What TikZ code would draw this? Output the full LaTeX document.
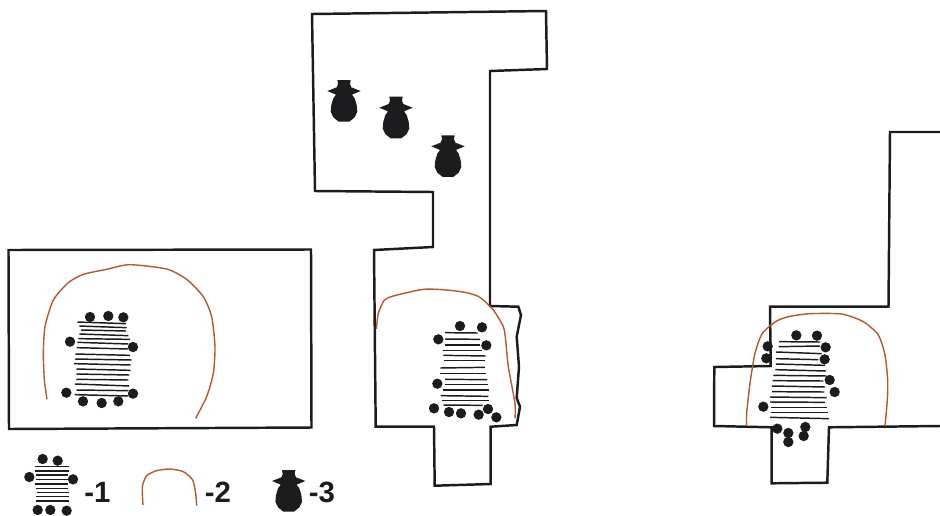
\documentclass[tikz,border=0pt]{standalone}
\usepackage{fontspec}
\setmainfont{Liberation Sans}
\definecolor{ink}{HTML}{1C1C1E}
\definecolor{rust}{HTML}{B5572F}
\newcommand{\dotsAt}[1]{\foreach \p in {#1}{\fill[ink] \p circle (15.5);}}
\newcommand{\treads}[1]{\foreach \ta/\tb/\tc/\td in {#1}{\draw[tread] (\ta,\tb) -- (\tc,\td);}}
\newcommand{\jarAt}[1]{\fill[ink,shift={#1},scale=1/3] (-20,0)--(20,0)--(18,12)--(22,22)--(50,33)--(24,44)--(32,55)--(38,75)--(40,95)--(32,112)--(16,125)--(-16,125)--(-32,112)--(-40,95)--(-38,75)--(-32,55)--(-24,44)--(-50,33)--(-22,22)--(-18,12)--cycle;}
\tikzset{
  x=0.75pt,y=-0.75pt,
  wall/.style={draw=ink,line width=1.85pt,line join=miter},
  tread/.style={draw=ink,line width=1.1pt},
  arc/.style={draw=rust,line width=1.05pt,line join=round,smooth,tension=0.4},
  zoomed/.style={shift={#1},scale=1/3},
  lab/.style={font=\bfseries\fontsize{22}{22}\selectfont,inner sep=0pt,anchor=west,text=ink}
}
\begin{document}
\begin{tikzpicture}
\useasboundingbox (0,0) rectangle (940,515);
% left chamber
\draw[wall] (8.5,250)--(311,249.5)--(311.5,427.5)--(9,429)--cycle;
% middle chamber
\draw[wall] (312,14)--(546,11)--(547,69)--(490,71)--(490,306)--(518.3,306.7)--(521,315)--(516.7,336.7)--(519,366.7)--(516.7,398)--(520,406.7)--(516.7,425)--(490.7,426.7)--(490.7,484)--(434.7,485.7)--(434,426.7)--(375.7,426.7)--(374,250)--(433,247)--(433,192)--(315,191)--cycle;
% right chamber
\draw[wall] (940,132)--(890,132)--(888.5,306.7)--(770,306.7)--(770.7,366)--(714.3,367)--(714,426)--(771.7,427.3)--(771.7,483.3)--(827.3,482.7)--(829,427.3)--(940,426);
% left contents
\begin{scope}[zoomed={(0,240)}]
\draw[arc] plot coordinates {(141,478)(133,420)(130,340)(135,260)(160,180)(205,128)(250,103)(320,88)(388,74)(500,87)(560,118)(610,170)(635,230)(645,320)(640,400)(620,470)(587,535)};
\treads{232/246/378/251,238/258/380/263,243/270/378/273,238/282/385/287,235/296/390/298,232/307/385/312,230/323/385/327,226/342/390/346,225/357/395/360,222/371/392/375,229/387/392/391,229/402/388/405,229/418/385/420,225/432/388/438,229/450/385/452,224/464/385/468}
\dotsAt{(270,231),(325,228),(370,232),(210,305),(399,321),(199,458),(399,461),(249,484),(305,489),(355,484)}
% legend
\treads{105/680/208/680,105/693/208/693,107/705/205/705,107/718/203/718,105/732/205/732,108/745/205/745,110/757/207/757,107/770/207/770,108/783/208/783}
\dotsAt{(128,657),(173,662),(88,711),(219,718),(113,810),(151,810),(200,812)}
\draw[arc] plot coordinates {(429,795)(427,740)(440,707)(470,692)(510,687)(550,695)(578,720)(587,760)(590,797)};
\end{scope}
% middle contents
\begin{scope}[zoomed={(360,270)}]
\draw[arc] plot coordinates {(49,177)(55,130)(72,92)(100,78)(190,58)(260,60)(320,68)(360,82)(400,120)(430,170)(437,210)(445,290)(465,400)(465,445)};
\treads{255/188/353/189,255/207/360/208,255/225/360/225,250/241/365/241,250/256/377/258,252/272/375/272,241/294/375/292,240/311/378/311,255/328/382/329,255/344/385/344,248/360/388/360,242/377/385/379,245/392/388/392,250/405/368/406}
\dotsAt{(300,168),(366,172),(235,208),(379,226),(232,341),(222,415),(267,426),(303,430),(356,434),(384,417),(409,442)}
\end{scope}
% right contents
\begin{scope}[zoomed={(700,290)}]
\draw[arc] plot coordinates {(140,407)(140,370)(150,280)(165,190)(187,130)(230,93)(270,79)(330,71)(425,72)(490,95)(535,135)(555,195)(563,270)(562,330)(555,407)};
\treads{237/155/360/156,236/170/360/168,228/186/365/191,228/206/355/209,228/222/375/226,226/239/378/243,220/256/380/258,218/272/370/273,215/288/375/291,216/305/373/306,210/321/380/323,210/336/375/337,212/352/380/352,212/368/385/368,210/382/387/386}
\dotsAt{(289,136),(351,137),(203,169),(199,205),(377,172),(374,208),(389,270),(404,306),(190,350),(232,416),(265,429),(265,456),(316,411),(311,438)}
\end{scope}
% jars
\jarAt{(344,80)}
\jarAt{(396,96.7)}
\jarAt{(448,135.3)}
\jarAt{(288.7,470)}
% legend labels
\node[lab] (l1) at (84,492) {-1};
\node[lab] (l2) at (204.5,492) {-2};
\node[lab] (l3) at (308.5,492) {-3};
\end{tikzpicture}
\end{document}
